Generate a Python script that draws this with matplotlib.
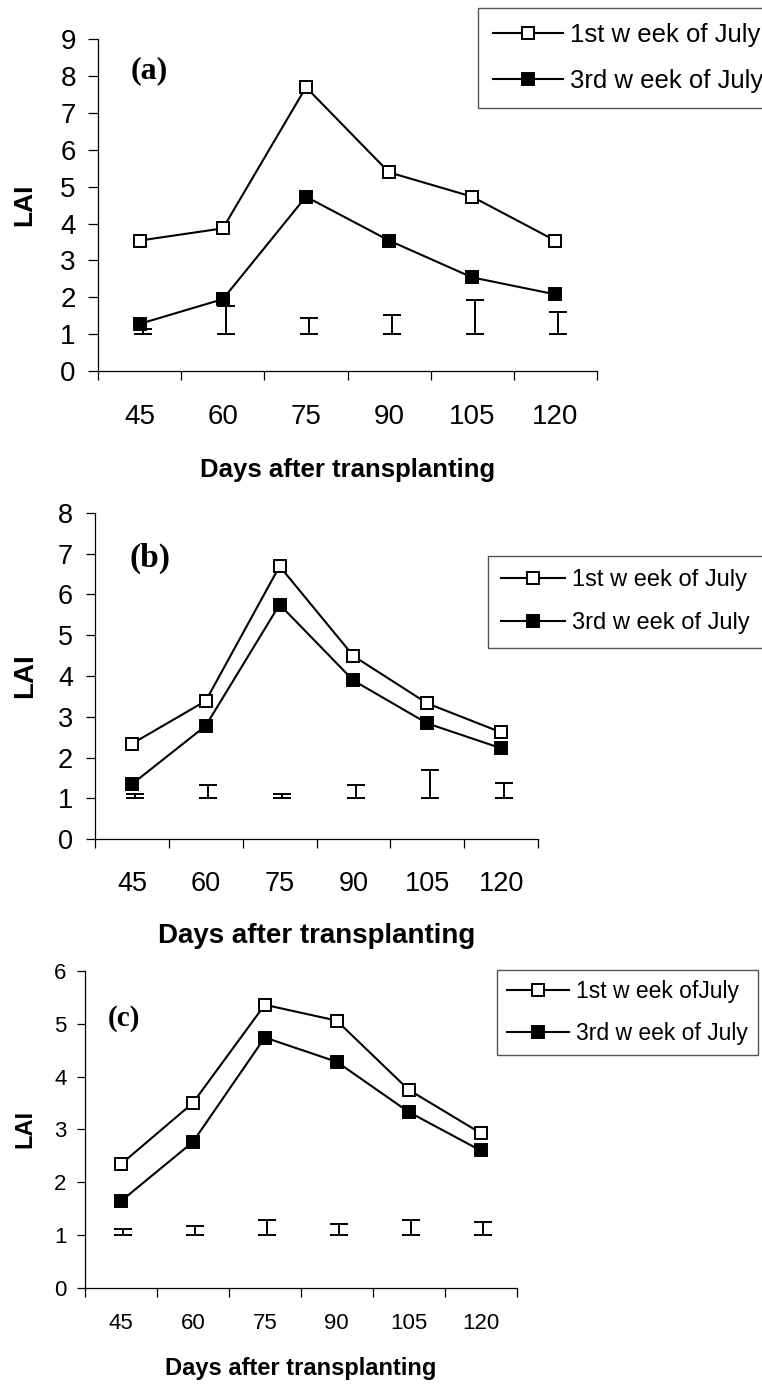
import matplotlib
matplotlib.use('Agg')
import matplotlib.pyplot as plt
import numpy as np

# ---------------- data ----------------
days = ['45', '60', '75', '90', '105', '120']

lai_a_1st = [3.54, 3.87, 7.70, 5.39, 4.73, 3.54]
lai_a_3rd = [1.28, 1.95, 4.73, 3.54, 2.54, 2.08]
lsd_a_top = [1.15, 1.77, 1.44, 1.52, 1.92, 1.59]

lai_b_1st = [2.34, 3.39, 6.69, 4.49, 3.33, 2.62]
lai_b_3rd = [1.35, 2.78, 5.75, 3.89, 2.84, 2.23]
lsd_b_top = [1.10, 1.32, 1.10, 1.32, 1.70, 1.39]

lai_c_1st = [2.34, 3.50, 5.36, 5.06, 3.75, 2.93]
lai_c_3rd = [1.64, 2.76, 4.74, 4.28, 3.33, 2.60]
lsd_c_top = [1.12, 1.17, 1.28, 1.21, 1.28, 1.24]

lsd_base = 1.0

labels_ab = ['1st w eek of July', '3rd w eek of July']
labels_c = ['1st w eek ofJuly', '3rd w eek of July']
panel_tags = ['(a)', '(b)', '(c)']
ymax_list = [9, 8, 6]
xlabel_text = 'Days after transplanting'
ylabel_text = 'LAI'

# ---------------- layout ----------------
plt.rcParams['font.family'] = ['Liberation Sans', 'DejaVu Sans']
W, H = 762, 1384
fig = plt.figure(figsize=(W / 100, H / 100), dpi=100)


def px_rect(l, t, r, b):
    return [l / W, 1 - b / H, (r - l) / W, (b - t) / H]


panels = [
    dict(rect=(98.3, 39.3, 596.7, 371.0), first=lai_a_1st, third=lai_a_3rd, tops=lsd_a_top,
         labels=labels_ab, tag_xy=(149, 71), tag_fs=23, xt_fs=20, yt_fs=20, xpad=24.0,
         ypad=9.0, ytl=7.2, xl_fs=18.5, xl_dy=99, yl_fs=19, yl_dx=74, leg_xy=(478.3, 8.3),
         leg_fs=18.5, leg_bp=0.58, leg_ls=0.86),
    dict(rect=(95.0, 512.7, 538.0, 839.3), first=lai_b_1st, third=lai_b_3rd, tops=lsd_b_top,
         labels=labels_ab, tag_xy=(150, 558), tag_fs=24, xt_fs=19.5, yt_fs=19.5, xpad=23.0,
         ypad=9.0, ytl=6.8, xl_fs=20, xl_dy=97, yl_fs=20, yl_dx=70, leg_xy=(488, 556),
         leg_fs=17, leg_bp=0.56, leg_ls=0.9),
    dict(rect=(85.0, 971.0, 516.5, 1287.7), first=lai_c_1st, third=lai_c_3rd, tops=lsd_c_top,
         labels=labels_c, tag_xy=(124, 1018), tag_fs=21, xt_fs=16, yt_fs=16, xpad=18.5,
         ypad=7.6, ytl=5.6, xl_fs=17, xl_dy=81, yl_fs=17, yl_dx=60, leg_xy=(497, 970),
         leg_fs=16.5, leg_bp=0.45, leg_ls=0.82),
]

for i, p in enumerate(panels):
    l, t, r, b = p['rect']
    axw, axh = r - l, b - t
    ax = fig.add_axes(px_rect(l, t, r, b))
    x = np.arange(len(days))
    tops = np.array(p['tops'])
    ax.errorbar(x + 0.035, np.full(len(days), lsd_base),
                yerr=[np.zeros(len(days)), tops - lsd_base], fmt='none',
                ecolor='black', elinewidth=1.4, capsize=6.3, capthick=1.4, zorder=2)
    ax.plot(x, p['first'], '-s', color='black', mfc='white', mec='black', ms=8, mew=1.4,
            lw=1.5, label=p['labels'][0], zorder=3)
    ax.plot(x, p['third'], '-s', color='black', mfc='black', mec='black', ms=8, mew=1.4,
            lw=1.5, label=p['labels'][1], zorder=3)

    ymax = ymax_list[i]
    ax.set_xlim(-0.5, len(days) - 0.5)
    ax.set_ylim(0, ymax)
    ax.set_yticks(range(ymax + 1))
    ax.set_xticks(x, days)
    ax.set_xticks(np.arange(-0.5, len(days)), minor=True)
    ax.tick_params(axis='x', which='major', length=0, pad=p['xpad'], labelsize=p['xt_fs'])
    ax.tick_params(axis='x', which='minor', length=6.8, width=0.9, direction='out')
    ax.tick_params(axis='y', length=p['ytl'], width=0.9, pad=p['ypad'],
                   labelsize=p['yt_fs'], direction='out')
    for s in ('top', 'right'):
        ax.spines[s].set_visible(False)
    for s in ('left', 'bottom'):
        ax.spines[s].set_linewidth(0.9)
        ax.spines[s].set_color('black')

    ax.set_xlabel(xlabel_text, fontsize=p['xl_fs'], fontweight='bold')
    ax.xaxis.set_label_coords(0.5, -p['xl_dy'] / axh)
    ax.xaxis.label.set_va('center')
    ax.set_ylabel(ylabel_text, fontsize=p['yl_fs'], fontweight='bold')
    ax.yaxis.set_label_coords(-p['yl_dx'] / axw, 0.5)
    ax.yaxis.label.set_va('center')

    tx, ty = p['tag_xy']
    fig.text(tx / W, 1 - ty / H, panel_tags[i], family=['Liberation Serif', 'DejaVu Serif'],
             fontweight='bold', fontsize=p['tag_fs'], ha='center', va='center')

    lx, ly = p['leg_xy']
    leg = ax.legend(loc='upper left', bbox_to_anchor=(lx / W, 1 - ly / H),
                    bbox_transform=fig.transFigure, fontsize=p['leg_fs'], frameon=True,
                    fancybox=False, edgecolor='#555555', framealpha=1, borderpad=p['leg_bp'],
                    labelspacing=p['leg_ls'], handlelength=2.7, handletextpad=0.3,
                    borderaxespad=0, numpoints=1)
    leg.get_frame().set_linewidth(1.0)

fig.savefig('out.png', dpi=100)
